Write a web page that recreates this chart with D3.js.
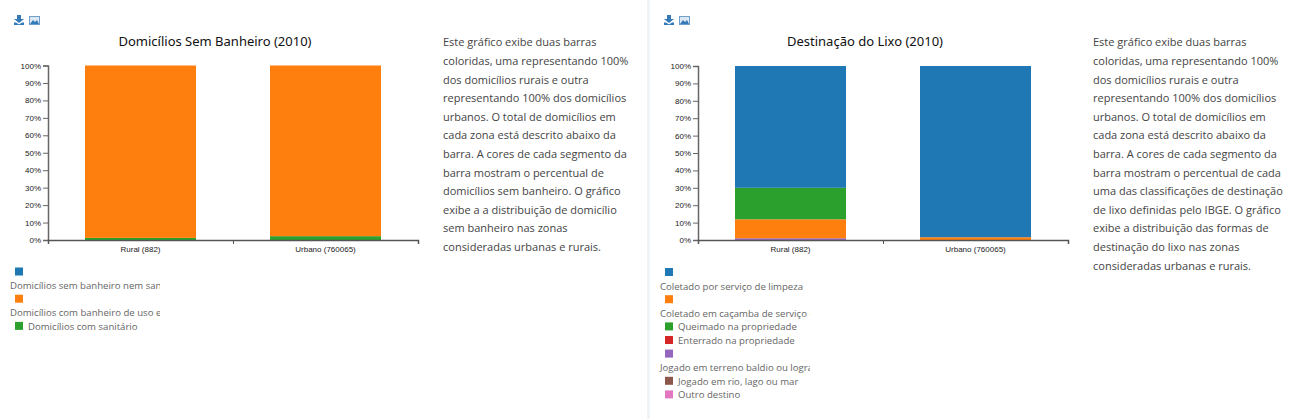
<!DOCTYPE html>
<html>
<head>
<meta charset="utf-8">
<script src="https://cdnjs.cloudflare.com/ajax/libs/d3/7.8.5/d3.min.js"></script>
<style>
  html, body { margin: 0; padding: 0; background: #fff; overflow: hidden; }
  .tick text { font: 8px "Liberation Sans", Arial, sans-serif; fill: #222; }
  .legend text { font: 9.6px "Open Sans", sans-serif; fill: #666; }
  .desc { font: 11px "Open Sans", sans-serif; fill: #444; }
  .title { font: 13px "Noto Sans", sans-serif; fill: #111; }
</style>
</head>
<body>
<svg id="page" width="1296" height="419"></svg>
<script>
// valores
const zones = ['Rural (882)', 'Urbano (760065)'];
const yTicks = [0, 10, 20, 30, 40, 50, 60, 70, 80, 90, 100];

const colors = ['#1f77b4', '#ff7f0e', '#2ca02c', '#d62728', '#9467bd', '#8c564b', '#e377c2'];

const banheiroTitle = 'Domicílios Sem Banheiro (2010)';
const banheiroLegend = ['Domicílios sem banheiro nem sanitário', 'Domicílios com banheiro de uso exclusivo', 'Domicílios com sanitário'];
const banheiroWrapped = [true, true, false];
const banheiroRural = [0, 98.8, 1.2];
const banheiroUrbano = [0, 97.8, 2.2];
const banheiroOrder = [2, 1, 0];

const lixoTitle = 'Destinação do Lixo (2010)';
const lixoLegend = ['Coletado por serviço de limpeza', 'Coletado em caçamba de serviço de limpeza', 'Queimado na propriedade', 'Enterrado na propriedade', 'Jogado em terreno baldio ou logradouro', 'Jogado em rio, lago ou mar', 'Outro destino'];
const lixoWrapped = [true, true, false, false, true, false, false];
const lixoRural = [70, 10.9, 18.1, 0, 1, 0, 0];
const lixoUrbano = [98.4, 1.6, 0, 0, 0, 0, 0];
const lixoOrder = [6, 5, 3, 4, 1, 2, 0];

const banheiroText = ['Este gráfico exibe duas barras', 'coloridas, uma representando 100%', 'dos domicílios rurais e outra', 'representando 100% dos domicílios', 'urbanos. O total de domicílios em', 'cada zona está descrito abaixo da', 'barra. A cores de cada segmento da', 'barra mostram o percentual de', 'domicílios sem banheiro. O gráfico', 'exibe a a distribuição de domicílio', 'sem banheiro nas zonas', 'consideradas urbanas e rurais.'];
const lixoText = ['Este gráfico exibe duas barras', 'coloridas, uma representando 100%', 'dos domicílios rurais e outra', 'representando 100% dos domicílios', 'urbanos. O total de domicílios em', 'cada zona está descrito abaixo da', 'barra. A cores de cada segmento da', 'barra mostram o percentual de cada', 'uma das classificações de destinação', 'de lixo definidas pelo IBGE. O gráfico', 'exibe a distribuição das formas de', 'destinação do lixo nas zonas', 'consideradas urbanas e rurais.'];

const svg = d3.select('#page');

// faixa cinza entre os dois paineis
svg.append('rect').attr('x', 647).attr('y', 0).attr('width', 3).attr('height', 419).attr('fill', '#f1f4f6');

function drawPanel(o) {
  const g = svg.append('g').attr('transform', `translate(${o.left}, 0)`);
  const width = 370, top = o.top, bottom = 240;

  // icones de download
  const ic = g.append('g').attr('transform', 'translate(-34, 15)').attr('fill', '#337ab7');
  ic.append('path').attr('d', 'M3 0h4v4h3L5 8 0 4h3zM0 7.5h2L5 9.5 8 7.5h2v2.5H0z');
  ic.append('rect').attr('x', 15.5).attr('y', 1.5).attr('width', 10).attr('height', 8).attr('fill', '#dce8f3').attr('stroke', '#6f9ec9');
  ic.append('path').attr('d', 'M16 9l3-4 2 2 2-2 2 4z');

  g.append('text').attr('class', 'title').attr('x', o.titleX).attr('y', 46).attr('text-anchor', 'middle').text(o.title);

  const x = d3.scaleBand().domain(zones).range([0, width]).paddingInner(0.4).paddingOuter(0.2);
  const xEdges = d3.scaleLinear().domain([0, 2]).range([0, width]);
  const y = d3.scaleLinear().domain([0, 100]).range([bottom, top]);

  const rows = zones.map((z, i) => {
    const vals = i === 0 ? o.rural : o.urbano;
    const row = { zone: z };
    vals.forEach((v, k) => { row[k] = v; });
    return row;
  });
  const stacked = d3.stack().keys(o.order)(rows);

  g.selectAll('g.serie').data(stacked).join('g').attr('class', 'serie')
    .attr('fill', d => colors[d.key])
    .selectAll('rect').data(d => d).join('rect')
    .attr('x', d => x(d.data.zone))
    .attr('width', x.bandwidth())
    .attr('y', d => y(d[1]))
    .attr('height', d => y(d[0]) - y(d[1]));

  const yAxis = d3.axisLeft(y).tickValues(yTicks).tickFormat(d => d + '%').tickSize(5).tickPadding(2);
  const ya = g.append('g').call(yAxis);
  ya.selectAll('path, line').attr('stroke', '#666');
  ya.select('.domain').attr('stroke-width', 1.5);

  const xa = g.append('g').attr('transform', `translate(0, ${bottom})`)
    .call(d3.axisBottom(xEdges).tickValues([0, 1, 2]).tickFormat('').tickSize(4));
  xa.selectAll('path, line').attr('stroke', '#555');
  xa.select('.domain').attr('stroke-width', 1.5);

  const xl = g.append('g').attr('transform', `translate(0, ${bottom})`)
    .call(d3.axisBottom(x).tickSize(0).tickPadding(6));
  xl.select('.domain').remove();

  // legenda cortada na largura da caixa
  const clipId = 'clip' + o.left;
  g.append('clipPath').attr('id', clipId).append('rect')
    .attr('x', -48).attr('y', 250).attr('width', o.clipW).attr('height', 169);
  const leg = g.append('g').attr('class', 'legend').attr('clip-path', `url(#${clipId})`);
  let ly = o.legendTop;
  o.legend.forEach((name, i) => {
    leg.append('rect').attr('x', -33).attr('y', ly).attr('width', 8).attr('height', 8).attr('fill', colors[i]);
    if (o.wrapped[i]) {
      leg.append('text').attr('x', -38).attr('y', ly + 21.5).text(name);
      ly += 27.2;
    } else {
      leg.append('text').attr('x', -20).attr('y', ly + 8).text(name);
      ly += 13.6;
    }
  });

  const t = svg.append('g').attr('transform', `translate(${o.textX}, 0)`);
  t.selectAll('text').data(o.text).join('text').attr('class', 'desc')
    .attr('y', (d, i) => 46.3 + i * 18.6).text(d => d);
}

drawPanel({ left: 48, top: 65.5, titleX: 167, title: banheiroTitle, rural: banheiroRural, urbano: banheiroUrbano, order: banheiroOrder, legend: banheiroLegend, wrapped: banheiroWrapped, legendTop: 267.5, clipW: 160, text: banheiroText, textX: 443 });
drawPanel({ left: 698, top: 66, titleX: 167, title: lixoTitle, rural: lixoRural, urbano: lixoUrbano, order: lixoOrder, legend: lixoLegend, wrapped: lixoWrapped, legendTop: 268, clipW: 160, text: lixoText, textX: 1093 });
</script>
</body>
</html>
